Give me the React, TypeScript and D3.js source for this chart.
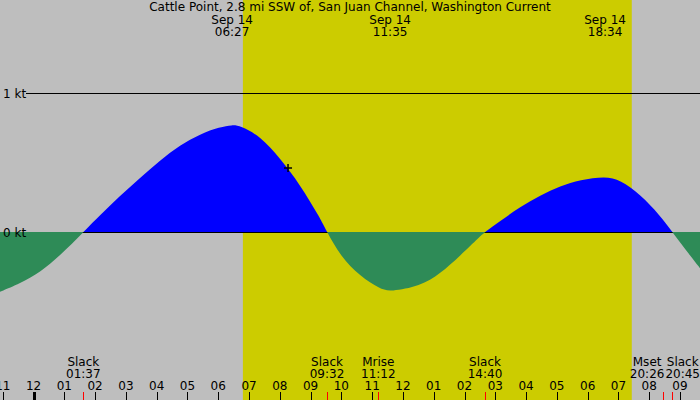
import { useRef, useEffect } from 'react';
import * as d3 from 'd3';

// Chart text
const title = 'Cattle Point, 2.8 mi SSW of, San Juan Channel, Washington Current';
const dateLabel = 'Sep 14';

// Visible window, hours from Sep 14 00:00
const viewStart = -1.09;
const viewEnd = 21.65;

// Daylight band and max-current times
const daylight = ['06:48', '19:26'];
const peakTimes = ['06:27', '11:35', '18:34'];

// Events along the bottom
const eventNames = ['Slack', 'Slack', 'Mrise', 'Slack', 'Mset', 'Slack'];
const eventTimes = ['01:37', '09:32', '11:12', '14:40', '20:26', '20:45'];

// Current speed (hours since midnight, knots)
const sampleHours = [
    -1.09, -0.44, 0.21, 0.86, 1.62, 2.16, 2.81, 3.46, 4.11, 4.76, 5.41, 6.06, 6.45, 6.71,
    7.36, 8.01, 8.66, 9.31, 9.53, 9.96, 10.61, 11.26, 11.58, 12.56, 13.21, 13.86, 14.51,
    14.67, 15.16, 15.81, 16.46, 17.11, 17.76, 18.57, 19.06, 19.71, 20.35, 20.75, 21.33, 21.65
];
const sampleKnots = [
    -0.43, -0.37, -0.29, -0.17, 0, 0.12, 0.26, 0.39, 0.515, 0.625, 0.705, 0.755, 0.77, 0.765,
    0.69, 0.53, 0.34, 0.10, 0, -0.17, -0.32, -0.41, -0.43, -0.39, -0.30, -0.17, -0.03,
    0, 0.08, 0.18, 0.265, 0.33, 0.375, 0.40, 0.375, 0.27, 0.12, 0, -0.17, -0.26
];

const knotTicks = [0, 1];

// "now" marker
const nowTime = '08:16';
const nowKnots = 0.46;

const toHours = (s: string) => {
    const [h, m] = s.split(':').map(Number);
    return h + m / 60;
};

const hourLabel = (h: number) => {
    const hh = ((h % 12) + 12) % 12;
    return String(hh === 0 ? 12 : hh).padStart(2, '0');
};

const App = () => {
    const chartRef = useRef<SVGSVGElement>(null);

    useEffect(() => {
        if (!chartRef.current) return;
        d3.select(chartRef.current).selectAll('*').remove();

        const width = 700;
        const height = 400;

        const svg = d3.select(chartRef.current)
            .attr('width', width)
            .attr('height', height)
            .style('font-family', 'DejaVu Sans')
            .style('font-size', '12px');

        const x = d3.scaleLinear().domain([viewStart, viewEnd]).range([0, width]);
        const y = d3.scaleLinear().domain([0, 1]).range([232, 93]);
        const zeroY = Math.round(y(0));

        // Background + daylight
        svg.append('rect')
            .attr('width', width)
            .attr('height', height)
            .attr('fill', '#bebebe');

        svg.append('rect')
            .attr('x', x(toHours(daylight[0])))
            .attr('width', x(toHours(daylight[1])) - x(toHours(daylight[0])))
            .attr('height', height)
            .attr('fill', '#cccc00');

        // Current curve
        const data = sampleHours.map((h, i) => ({ h, v: sampleKnots[i] }));
        const area = d3.area<{ h: number; v: number }>()
            .x(d => x(d.h))
            .y0(zeroY)
            .y1(d => y(d.v))
            .curve(d3.curveBasis);

        const defs = svg.append('defs');
        defs.append('clipPath').attr('id', 'flood')
            .append('rect').attr('width', width).attr('height', zeroY);
        defs.append('clipPath').attr('id', 'ebb')
            .append('rect').attr('y', zeroY).attr('width', width).attr('height', height - zeroY);

        svg.append('path')
            .datum(data)
            .attr('d', area)
            .attr('fill', '#0000ff')
            .attr('clip-path', 'url(#flood)');

        // Knot lines
        svg.selectAll('line.knot')
            .data(knotTicks)
            .enter()
            .append('line')
            .attr('class', 'knot')
            .attr('x1', 26)
            .attr('x2', width)
            .attr('y1', d => Math.round(y(d)) + 0.5)
            .attr('y2', d => Math.round(y(d)) + 0.5)
            .attr('stroke', '#000')
            .attr('stroke-width', 1);

        svg.append('path')
            .datum(data)
            .attr('d', area)
            .attr('fill', '#2e8b57')
            .attr('clip-path', 'url(#ebb)');

        svg.selectAll('text.knot')
            .data(knotTicks)
            .enter()
            .append('text')
            .attr('class', 'knot')
            .attr('x', 3)
            .attr('y', d => y(d) + 4.5)
            .attr('fill', '#000')
            .text(d => `${d} kt`);

        // Now marker
        const nx = x(toHours(nowTime));
        const ny = y(nowKnots);
        svg.append('path')
            .attr('d', `M${nx - 4},${ny}H${nx + 4}M${nx},${ny - 4}V${ny + 4}`)
            .attr('stroke', '#000')
            .attr('stroke-width', 1.5);

        // Title and peak labels
        svg.append('text')
            .attr('x', width / 2)
            .attr('y', 11)
            .attr('text-anchor', 'middle')
            .text(title);

        const peaks = svg.selectAll('g.peak')
            .data(peakTimes)
            .enter()
            .append('g')
            .attr('class', 'peak')
            .attr('transform', d => `translate(${x(toHours(d))},0)`)
            .attr('text-anchor', 'middle');
        peaks.append('text').attr('y', 24).text(dateLabel);
        peaks.append('text').attr('y', 36).text(d => d);

        // Hour ticks
        const hours = d3.range(Math.ceil(viewStart), Math.floor(viewEnd) + 1);
        svg.selectAll('line.hour')
            .data(hours)
            .enter()
            .append('line')
            .attr('class', 'hour')
            .attr('x1', d => Math.round(x(d)) + 0.5)
            .attr('x2', d => Math.round(x(d)) + 0.5)
            .attr('y1', 392)
            .attr('y2', height)
            .attr('stroke', '#000')
            .attr('stroke-width', d => (d % 24 === 0 ? 3 : 1));

        svg.selectAll('text.hour')
            .data(hours)
            .enter()
            .append('text')
            .attr('class', 'hour')
            .attr('x', d => x(d))
            .attr('y', 390)
            .attr('text-anchor', 'middle')
            .text(d => hourLabel(d));

        // Event ticks and labels
        const eventHours = eventTimes.map(toHours);
        svg.selectAll('line.event')
            .data(eventHours)
            .enter()
            .append('line')
            .attr('class', 'event')
            .attr('x1', d => Math.round(x(d)) + 0.5)
            .attr('x2', d => Math.round(x(d)) + 0.5)
            .attr('y1', 392)
            .attr('y2', height)
            .attr('stroke', '#ff0000')
            .attr('stroke-width', 1);

        const events = svg.selectAll('g.event')
            .data(eventNames.map((name, i) => ({ name, time: eventTimes[i], h: eventHours[i] })))
            .enter()
            .append('g')
            .attr('class', 'event')
            .attr('text-anchor', 'middle');
        events.append('text').attr('y', 366).text(d => d.name);
        events.append('text').attr('y', 378).text(d => d.time);

        // push overlapping labels apart, keep them inside the chart
        const widths: number[] = [];
        events.each(function () {
            let w = 0;
            d3.select(this).selectAll<SVGTextElement, unknown>('text').each(function () {
                w = Math.max(w, this.getComputedTextLength());
            });
            widths.push(w);
        });
        const centers = eventHours.map(h => x(h));
        const gap = 1;
        for (let pass = 0; pass < 10; pass++) {
            for (let i = 0; i < centers.length - 1; i++) {
                const need = (widths[i] + widths[i + 1]) / 2 + gap;
                const overlap = need - (centers[i + 1] - centers[i]);
                if (overlap > 0) {
                    centers[i] -= overlap / 2;
                    centers[i + 1] += overlap / 2;
                }
            }
            centers.forEach((c, i) => {
                centers[i] = Math.max(widths[i] / 2, Math.min(width - widths[i] / 2, c));
            });
        }
        events.attr('transform', (_, i) => `translate(${centers[i]},0)`);
    }, []);

    return (
        <svg ref={chartRef} style={{ position: 'absolute', left: 0, top: 0, display: 'block' }} />
    );
};

export default App;
